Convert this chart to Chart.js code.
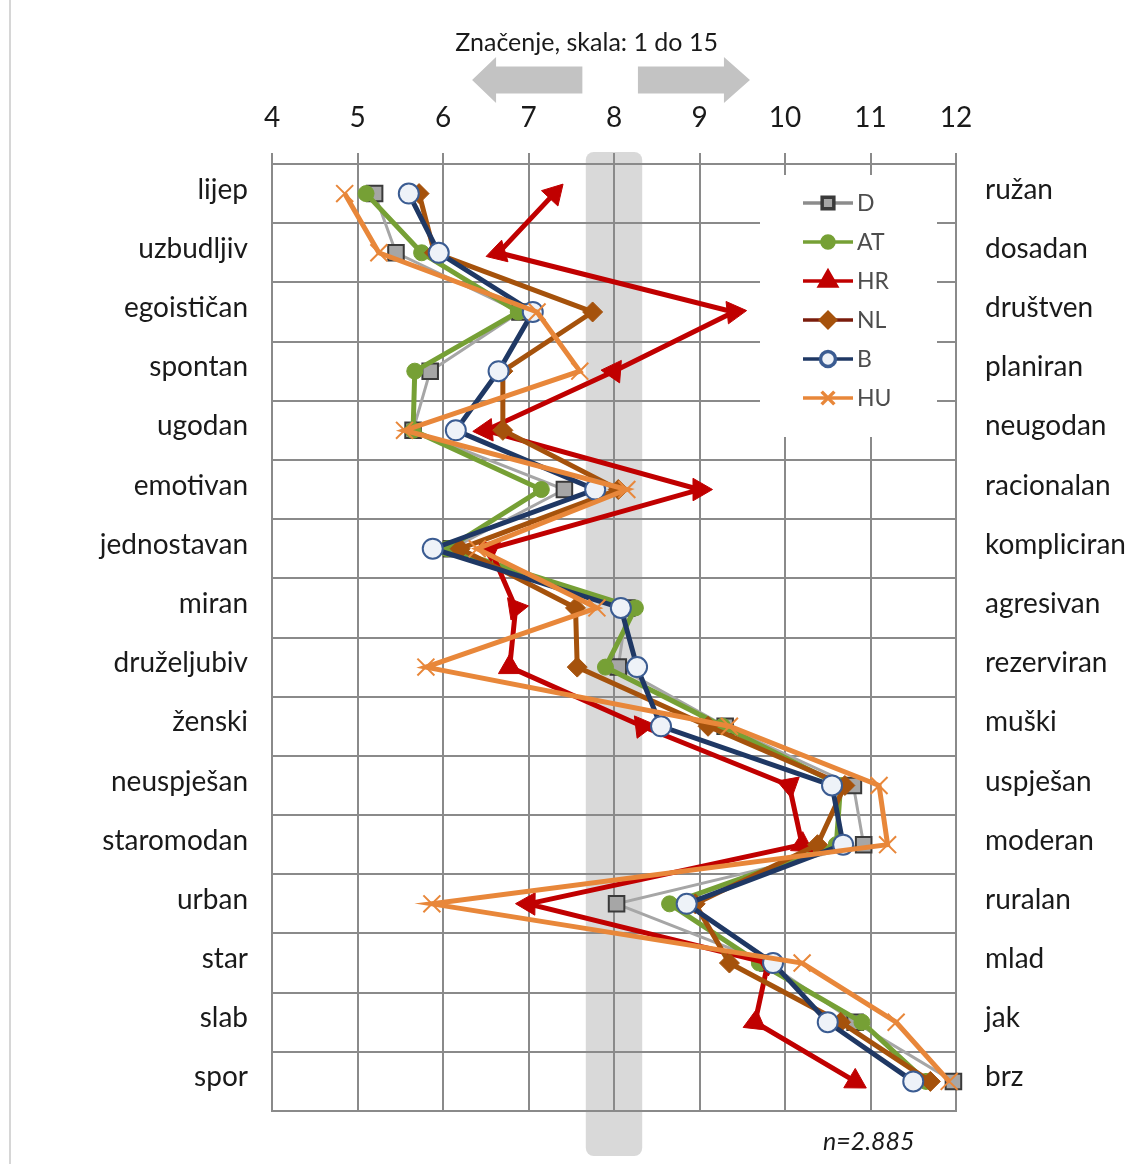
<!DOCTYPE html>
<html>
<head>
<meta charset="utf-8">
<script src="https://cdn.jsdelivr.net/npm/chart.js@4.4.1/dist/chart.umd.min.js"></script>
<style>
  html, body { margin: 0; padding: 0; background: #fff; }
  #wrap { position: relative; width: 1130px; height: 1164px; }
</style>
</head>
<body>
<div id="wrap"><canvas id="ctx"></canvas></div>
<script>

// data
var leftLabels = ['lijep','uzbudljiv','egoističan','spontan','ugodan','emotivan','jednostavan','miran','druželjubiv','ženski','neuspješan','staromodan','urban','star','slab','spor'];
var rightLabels = ['ružan','dosadan','društven','planiran','neugodan','racionalan','kompliciran','agresivan','rezerviran','muški','uspješan','moderan','ruralan','mlad','jak','brz'];
var xTicks = [4,5,6,7,8,9,10,11,12];

var valD  = [5.2, 5.45, 6.9, 5.85, 5.65, 7.42, 6.1, 8.15, 8.05, 9.3, 10.8, 10.92, 8.03, 9.8, 10.82, 11.97];
var valAT = [5.1, 5.75, 6.88, 5.67, 5.65, 7.15, 6.05, 8.25, 7.9, 9.27, 10.65, 10.6, 8.65, 9.7, 10.9, 11.65];
var valHR = [7.3, 6.65, 9.4, 8.0, 6.5, 9.0, 6.55, 6.85, 6.78, 8.33, 10.05, 10.2, 7.0, 9.8, 9.65, 10.82];
var valNL = [5.72, 5.9, 7.75, 6.7, 6.7, 8.05, 6.2, 7.55, 7.57, 9.1, 10.7, 10.38, 8.95, 9.35, 10.65, 11.7];
var valB  = [5.6, 5.95, 7.05, 6.65, 6.15, 7.78, 5.88, 8.08, 8.27, 8.55, 10.55, 10.68, 8.85, 9.86, 10.5, 11.5];
var valHU = [4.85, 5.25, 7.1, 7.6, 5.55, 8.15, 6.4, 7.8, 5.8, 9.35, 11.1, 11.2, 5.87, 10.2, 11.3, 11.92];

var titleText = 'Značenje, skala: 1 do 15';
var noteText = 'n=2.885';
var gridColor = '#8a8a8a';
var FONT = 'Lato';

// triangle points away from the vertex (outward bisector)
function arrowRotation(c) {
  var chart = c.chart, i = c.dataIndex, d = c.dataset.data;
  var xs = chart.scales.x, ys = chart.scales.y;
  if (!xs || !ys) return 0;
  var vx = 0, vy = 0;
  [i - 1, i + 1].forEach(function (j) {
    if (j >= 0 && j < d.length) {
      var dx = xs.getPixelForValue(d[i]) - xs.getPixelForValue(d[j]);
      var dy = ys.getPixelForValue(i) - ys.getPixelForValue(j);
      var l = Math.hypot(dx, dy) || 1;
      vx += dx / l; vy += dy / l;
    }
  });
  return Math.atan2(vx, -vy) * 180 / Math.PI;
}

var decor = {
  id: 'decor',
  beforeDraw: function (chart) {
    var c = chart.ctx, ca = chart.chartArea, xs = chart.scales.x;
    c.save();
    // page rule on the left
    c.fillStyle = '#d6d6d6';
    c.fillRect(9, 0, 2, chart.height);
    // grey band around the middle of the scale
    var b1 = xs.getPixelForValue(7.67), b2 = xs.getPixelForValue(8.33);
    c.fillStyle = '#d9d9d9';
    c.beginPath();
    c.roundRect(b1, ca.top - 12, b2 - b1, ca.bottom - ca.top + 57, 8);
    c.fill();
    // arrows
    var cy = 80, bh = 13.5, hh = 23;
    c.fillStyle = '#c3c3c3';
    var lt = xs.getPixelForValue(6.34), lb = lt + 24, le = xs.getPixelForValue(7.63);
    c.beginPath();
    c.moveTo(lt, cy); c.lineTo(lb, cy - hh); c.lineTo(lb, cy - bh); c.lineTo(le, cy - bh);
    c.lineTo(le, cy + bh); c.lineTo(lb, cy + bh); c.lineTo(lb, cy + hh); c.closePath();
    c.fill();
    var rs = xs.getPixelForValue(8.28), rt = xs.getPixelForValue(9.59), rb = rt - 26;
    c.beginPath();
    c.moveTo(rt, cy); c.lineTo(rb, cy - hh); c.lineTo(rb, cy - bh); c.lineTo(rs, cy - bh);
    c.lineTo(rs, cy + bh); c.lineTo(rb, cy + bh); c.lineTo(rb, cy + hh); c.closePath();
    c.fill();
    // heading
    c.fillStyle = '#1a1a1a';
    c.font = '25px ' + FONT;
    c.textAlign = 'center';
    c.textBaseline = 'middle';
    c.fillText(titleText, xs.getPixelForValue(7.68), 43);
    // sample size
    c.font = 'italic 25px ' + FONT;
    c.fillText(noteText, xs.getPixelForValue(10.98), ca.bottom + 31);
    c.restore();
  },
  afterDatasetsDraw: function (chart) {
    var c = chart.ctx, ca = chart.chartArea;
    var bx = ca.right - 196, by = ca.top + 11, bw = 177, bhgt = 262;
    c.save();
    c.fillStyle = '#fff';
    c.fillRect(bx, by, bw, bhgt);
    chart.data.datasets.forEach(function (ds, k) {
      var y = by + 28 + k * 39;
      var x1 = bx + 43, x2 = bx + 93;
      c.strokeStyle = ds.legendLine || ds.borderColor;
      c.lineWidth = 3.5;
      c.beginPath(); c.moveTo(x1, y); c.lineTo(x2, y); c.stroke();
      c.fillStyle = ds.pointBackgroundColor;
      c.strokeStyle = ds.pointBorderColor;
      Chart.helpers.drawPoint(c, {
        pointStyle: ds.pointStyle, radius: ds.pointRadius * 0.75,
        rotation: 0, borderWidth: ds.pointBorderWidth
      }, (x1 + x2) / 2, y);
      c.fillStyle = '#4d4d4d';
      c.font = '23px ' + FONT;
      c.textAlign = 'left';
      c.textBaseline = 'middle';
      c.fillText(ds.label, x2 + 4, y + 1);
    });
    c.restore();
  }
};

var lineChart = new Chart(document.getElementById('ctx'), {
  type: 'line',
  data: {
    labels: leftLabels,
    datasets: [{
        label: 'D', data: valD, order: 6,
        borderColor: '#a6a6a6', borderWidth: 3, legendLine: '#8c8c8c',
        pointStyle: 'rect', pointRadius: 11, pointBorderWidth: 2,
        pointBackgroundColor: '#a6a6a6', pointBorderColor: '#3a3a3a'
      }, {
        label: 'AT', data: valAT, order: 5,
        borderColor: '#76a035', borderWidth: 5,
        pointStyle: 'circle', pointRadius: 8, pointBorderWidth: 1,
        pointBackgroundColor: '#76a035', pointBorderColor: '#76a035'
      }, {
        label: 'HR', data: valHR, order: 4,
        borderColor: '#c00000', borderWidth: 5,
        pointStyle: 'triangle', pointRadius: 13, pointBorderWidth: 1,
        pointRotation: arrowRotation,
        pointBackgroundColor: '#c00000', pointBorderColor: '#c00000'
      }, {
        label: 'NL', data: valNL, order: 3,
        borderColor: '#a5520c', borderWidth: 5, legendLine: '#7a1c0c',
        pointStyle: 'rectRot', pointRadius: 10, pointBorderWidth: 1,
        pointBackgroundColor: '#a5520c', pointBorderColor: '#a5520c'
      }, {
        label: 'B', data: valB, order: 2,
        borderColor: '#1f3864', borderWidth: 5,
        pointStyle: 'circle', pointRadius: 10, pointBorderWidth: 2,
        pointBackgroundColor: '#eef2f8', pointBorderColor: '#3b5c92'
      }, {
        label: 'HU', data: valHU, order: 1,
        borderColor: '#e8873a', borderWidth: 5,
        pointStyle: 'crossRot', pointRadius: 12, pointBorderWidth: 2,
        pointBackgroundColor: '#e8873a', pointBorderColor: '#e8873a'
      }
    ]
  },
  options: {
    indexAxis: 'y',
    responsive: true,
    maintainAspectRatio: false,
    animation: false,
    layout: { padding: { left: 0, right: 0, top: 0, bottom: 53 } },
    elements: { line: { tension: 0, fill: false }, point: { hoverRadius: 10 } },
    datasets: { line: { clip: false } },
    plugins: { legend: { display: false }, tooltip: { enabled: false } },
    scales: {
      x: {
        type: 'linear', position: 'top', min: 4, max: 12,
        afterBuildTicks: function (s) { s.ticks = xTicks.map(function (v) { return { value: v }; }); },
        afterFit: function (s) { s.height = 164; },
        ticks: { font: { family: FONT, size: 28 }, color: '#1a1a1a', padding: 18 },
        grid: { color: gridColor, lineWidth: 2, tickLength: 11, drawTicks: true },
        border: { color: gridColor, width: 2 }
      },
      y: {
        type: 'category', position: 'left', offset: true,
        afterFit: function (s) { s.width = 272; },
        ticks: { font: { family: FONT, size: 28 }, color: '#1a1a1a', padding: 24, labelOffset: -4 },
        grid: { offset: true, color: gridColor, lineWidth: 2, drawTicks: false },
        border: { color: gridColor, width: 2 }
      },
      y2: {
        type: 'category', position: 'right', offset: true, labels: rightLabels,
        afterFit: function (s) { s.width = 174; },
        ticks: { font: { family: FONT, size: 28 }, color: '#1a1a1a', padding: 29, labelOffset: -4 },
        grid: { display: false, drawTicks: false },
        border: { display: true, color: gridColor, width: 2 }
      }
    }
  },
  plugins: [decor]
});

</script>
</body>
</html>
